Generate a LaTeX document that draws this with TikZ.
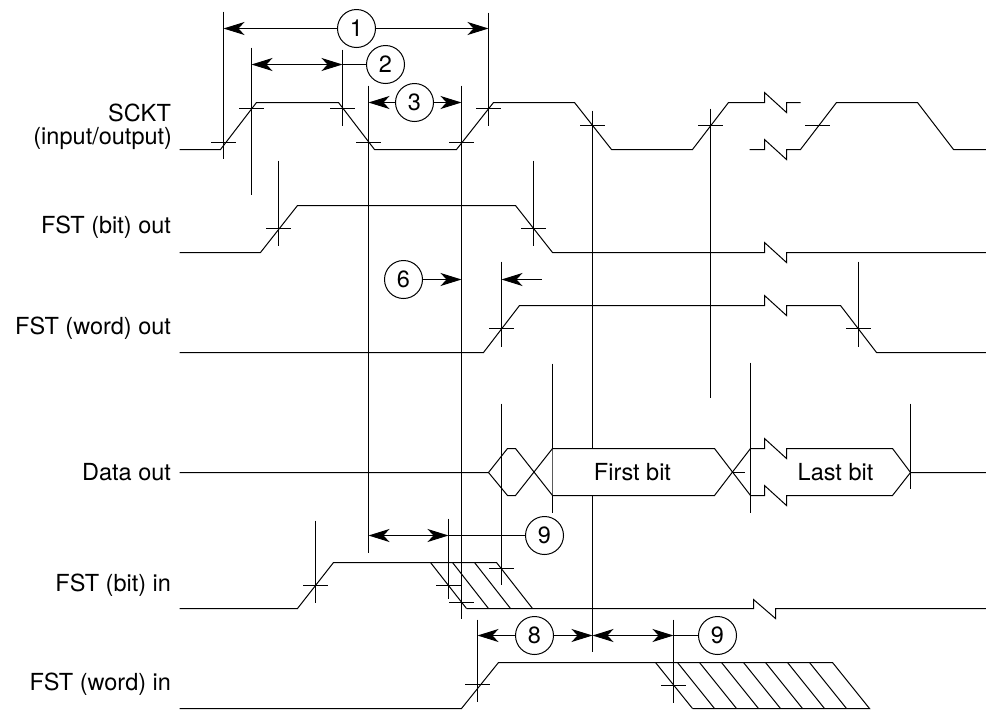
\documentclass[tikz,border=0pt]{standalone}
\usepackage{fontspec}
\setmainfont{TeX Gyre Heros}
\usetikzlibrary{arrows.meta}

\begin{document}
\begin{tikzpicture}[
        x=1pt, y=-1pt,
        line width=1pt,
        >={Stealth[length=21pt,width=13pt,inset=6pt]},
        every node/.style={font=\fontsize{23.5}{26}\selectfont},
        callout/.style={circle, draw=black, inner sep=0pt, minimum size=38pt},
        signame/.style={anchor=east, inner sep=0pt},
        bitname/.style={inner sep=0pt},
    ]
    \useasboundingbox (-.5,-.5) rectangle (985.5,709.5);

    \node[signame] (L1a) at (171,112) {SCKT};
    \node[signame] (L1b) at (172,138) {(input/output)};
    \node[signame] (L2)  at (171,227) {FST (bit) out};
    \node[signame] (L3)  at (171,328) {FST (word) out};
    \node[signame] (L4)  at (171,472) {Data out};
    \node[signame] (L5)  at (171,585) {FST (bit) in};
    \node[signame] (L6)  at (171,684) {FST (word) in};

    \foreach \name/\x/\ytop/\ybot in {
        V1/223/11/158, V2/251/47/194, V3/342/49/125, V4/368/85/552,
        V5/461/85/618, V6/488/12/125, V7/592/110/651, V8/710/108/397,
        V9/278/160/245, V10/533/160/245, V11/501/261/346, V12/858/261/346,
        V13/552/363/512, V14/750/362/512, V15/501/403/584, V16/910/403/488,
        V17/315/520/602, V18/448/518/598, V19/477/619/701, V20/673/619/702
    } {
        \coordinate (\name t) at (\x,\ytop);
        \coordinate (\name b) at (\x,\ybot);
        \draw (\name t) -- (\name b);
    }

    \foreach \x/\y in {
        223/142, 251/108, 342/108, 368/142, 461/142, 488/108,
        592/125, 710/125, 817/125, 278/228, 533/228, 501/328, 858/328,
        732/472, 315/585, 448/585, 461/602, 501/568, 477/684, 673/685
    } {
        \draw (\x,\y) +(-12.5,0) -- +(12.5,0);
    }

    \draw (179,149) -- (220,149) -- (256,102) -- (338,102) -- (374,149) -- (456,149) -- (493,102)
        -- (574,102) -- (611,149) -- (692,149) -- (728,102) -- (764,102) -- (764,92) -- (786,112)
        -- (786,102) -- (800,102);
    \draw (749,149) -- (764,149) -- (764,139) -- (786,159) -- (786,149) -- (800,149) -- (836,102)
        -- (917,102) -- (953,149) -- (986,149);

    \draw (179,252) -- (260,252) -- (297,205) -- (515,205) -- (552,252) -- (764,252) -- (764,242)
        -- (786,262) -- (786,252) -- (986,252);

    \draw (179,352) -- (483,352) -- (519,305) -- (764,305) -- (764,295) -- (786,315) -- (786,305)
        -- (840,305) -- (876,352) -- (986,352);

    \fill[white] (552,448) -- (714,448) -- (732,472) -- (714,495) -- (552,495) -- cycle;
    \draw (179,472) -- (488,472) -- (507,448) -- (515,448) -- (552,495) -- (714,495) -- (750,448)
        -- (764,448) -- (764,438) -- (786,458) -- (786,448) -- (892,448) -- (910,472) -- (986,472);
    \draw (488,472) -- (507,495) -- (515,495) -- (552,448) -- (714,448) -- (750,495)
        -- (764,495) -- (764,485) -- (786,505) -- (786,495) -- (892,495) -- (910,472);

    \node[bitname] (B1) at (632,472) {First bit};
    \node[bitname] (B2) at (835,472) {Last bit};

    \draw (179,608) -- (297,608) -- (333,562) -- (496,562) -- (532,608);
    \draw (466,608) -- (753,608) -- (753,599) -- (775,618) -- (775,608) -- (986,608);
    \foreach \x in {430,452,474} {
        \draw (\x,562) -- (\x+36,608);
    }

    \draw (179,708) -- (461,708) -- (498,662) -- (832,662) -- (869,708) -- (692,708);
    \foreach \x in {655,677,699,721,743,765,787,809} {
        \draw (\x,662) -- (\x+37,708);
    }

    \node[callout] (C1) at (356,28)  {1};
    \node[callout] (C2) at (385,64)  {2};
    \node[callout] (C3) at (414,102) {3};
    \node[callout] (C6) at (403,279) {6};
    \node[callout] (C7) at (544,535) {9};
    \node[callout] (C8) at (534,635) {8};
    \node[callout] (C9) at (717,635) {9};

    \draw[->] (C1) -- (V1t |- C1);
    \draw[->] (C1) -- (V6t |- C1);

    \draw[<->] (V2t |- C2) -- (V3t |- C2);
    \draw[-] (V3t |- C2) -- (C2);

    \draw[->] (C3) -- (V4t |- C3);
    \draw[->] (C3) -- (V5t |- C3);

    \draw[->] (C6) -- (V5t |- C6);
    \coordinate (F6) at (541,279);
    \draw[->] (F6) -- (V11t |- F6);

    \draw[<->] (V4t |- C7) -- (V18t |- C7);
    \draw[-] (V18t |- C7) -- (C7);

    \draw[->] (C8) -- (V19t |- C8);
    \draw[->] (C8) -- (V7t |- C8);

    \draw[<->] (V7t |- C9) -- (V20t |- C9);
    \draw[-] (V20t |- C9) -- (C9);

\end{tikzpicture}
\end{document}
